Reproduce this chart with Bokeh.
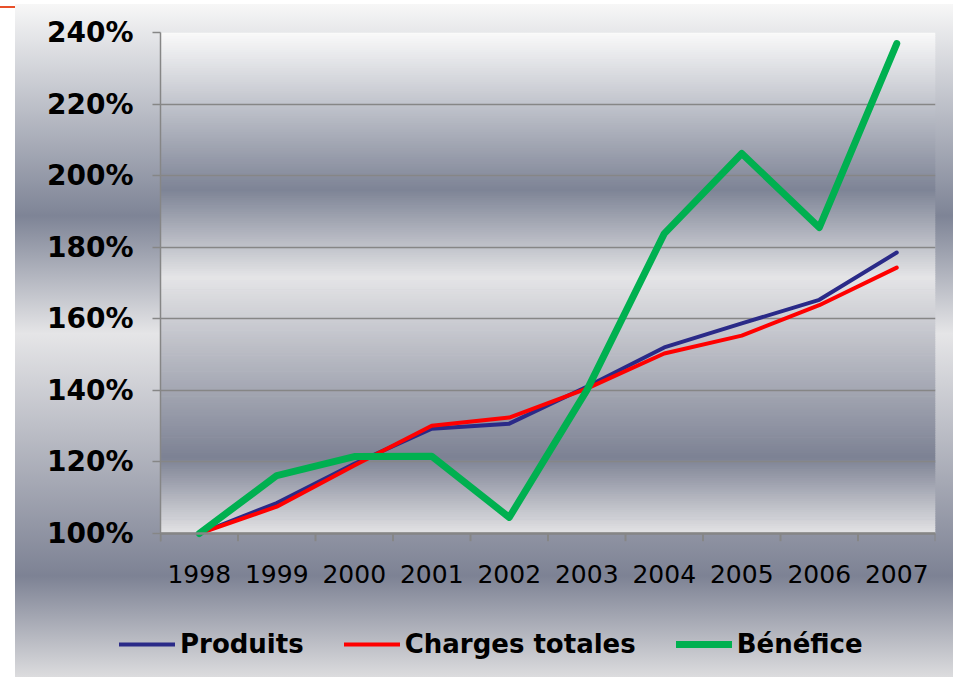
import numpy as np
from bokeh.plotting import figure
from bokeh.layouts import column
from bokeh.models import (Range1d, FixedTicker, Legend, LegendItem, Span,
                          ColumnDataSource)
from bokeh.embed import file_html
from bokeh.resources import INLINE

# ---------------- data ----------------
years = ["1998", "1999", "2000", "2001", "2002", "2003", "2004", "2005", "2006", "2007"]
produits = [100, 108.5, 119.5, 129.3, 130.7, 141.0, 152.0, 158.7, 165.3, 178.5]
charges = [100, 107.5, 119.0, 130.1, 132.4, 140.5, 150.3, 155.3, 163.8, 174.3]
benefice = [100, 116.2, 121.5, 121.6, 104.5, 140.0, 183.8, 206.2, 185.5, 236.9]
y_ticks = [100, 120, 140, 160, 180, 200, 220, 240]
y_tick_labels = ["100%", "120%", "140%", "160%", "180%", "200%", "220%", "240%"]
series_names = ["Produits", "Charges totales", "Bénéfice"]

# ---------------- style ----------------
FONT = "DejaVu Sans"
GRAY = "#868686"
C_BLUE = "#2a2a88"
C_RED = "#ff0000"
C_GREEN = "#00b050"
series_colors = [C_BLUE, C_RED, C_GREEN]
series_widths = [4, 4, 7]
series_values = [produits, charges, benefice]

g_stops = [0.0, 0.315, 0.49, 0.85, 1.0]
g_cols = [(251, 251, 251), (126, 132, 150), (229, 229, 231), (125, 130, 148), (227, 227, 229)]

W, H = 953, 677
LEG_H = 77
FRAME_H = 501          # height of the 100%..240% span
TICK_PX = 8            # category tick length below the axis line
n_cat = len(years)
xc = np.arange(n_cat) + 0.5
y0, y1 = y_ticks[0], y_ticks[-1]
tick_units = TICK_PX * (y1 - y0) / FRAME_H

p = figure(width=W, height=H - LEG_H, output_backend="svg", toolbar_location=None,
           x_range=Range1d(0, n_cat), y_range=Range1d(y0 - tick_units, y1),
           frame_width=775, frame_height=FRAME_H + TICK_PX,
           min_border_left=160, min_border_top=32, min_border_right=18,
           min_border_bottom=H - LEG_H - 32 - FRAME_H - TICK_PX)
p.background_fill_alpha = 0
p.border_fill_alpha = 0
p.outline_line_color = None

# plot-area gradient bands (100%..240%)
N = 220
edges = np.linspace(y1, y0, N + 1)
frac = (y1 - (edges[:-1] + edges[1:]) / 2) / (y1 - y0)
cols = []
for f in frac:
    rgb = [int(np.interp(f, g_stops, [c[k] for c in g_cols])) for k in range(3)]
    cols.append("#%02x%02x%02x" % tuple(rgb))
step = (y1 - y0) / N
bg = ColumnDataSource(dict(left=[0] * N, right=[n_cat] * N,
                           top=list(np.minimum(edges[:-1] + step * 0.3, y1)),
                           bottom=list(edges[1:]), c=cols))
p.quad(left="left", right="right", top="top", bottom="bottom", fill_color="c",
       line_color=None, source=bg, level="underlay")

# y axis
p.yaxis.ticker = FixedTicker(ticks=y_ticks)
p.yaxis.major_label_overrides = {t: l for t, l in zip(y_ticks, y_tick_labels)}
p.yaxis.major_label_text_font = FONT
p.yaxis.major_label_text_font_style = "bold"
p.yaxis.major_label_text_font_size = "28px"
p.yaxis.major_label_text_color = "black"
p.yaxis.major_label_standoff = 19
p.yaxis.axis_line_color = GRAY
p.yaxis.axis_line_width = 1.5
p.yaxis.major_tick_line_color = GRAY
p.yaxis.major_tick_line_width = 1.5
p.yaxis.major_tick_out = 8
p.yaxis.major_tick_in = 0
p.yaxis.minor_tick_line_color = None

p.ygrid.ticker = FixedTicker(ticks=y_ticks)
p.ygrid.grid_line_color = GRAY
p.ygrid.grid_line_width = 1.5
p.xgrid.grid_line_color = None

# x axis: category labels only
p.xaxis.ticker = FixedTicker(ticks=list(xc))
p.xaxis.major_label_overrides = {float(x): y for x, y in zip(xc, years)}
p.xaxis.major_label_text_font = FONT
p.xaxis.major_label_text_font_size = "25px"
p.xaxis.major_label_text_color = "black"
p.xaxis.major_label_standoff = 17
p.xaxis.axis_line_color = None
p.xaxis.major_tick_line_color = None
p.xaxis.minor_tick_line_color = None

# category axis line and boundary ticks
p.add_layout(Span(location=y0, dimension="width", line_color=GRAY, line_width=2.5))
bounds = np.arange(n_cat + 1)
p.segment(x0=bounds, y0=[y0] * len(bounds), x1=bounds, y1=[y0 - tick_units] * len(bounds),
          line_color=GRAY, line_width=2)

# series
for vals, c, w in zip(series_values, series_colors, series_widths):
    p.line(xc, vals, line_color=c, line_width=w, line_join="round", line_cap="round")

# ---------------- legend strip ----------------
# (a frameless strip below the chart; its line renderers hold the same series,
#  drawn outside its visible range, and only serve as legend samples)
pl = figure(width=W, height=LEG_H, output_backend="svg", toolbar_location=None,
            x_range=Range1d(0, W), y_range=Range1d(0, LEG_H),
            frame_width=W, frame_height=LEG_H,
            min_border_left=0, min_border_right=0, min_border_top=0, min_border_bottom=0)
pl.axis.visible = False
pl.grid.visible = False
pl.outline_line_color = None
pl.background_fill_alpha = 0
pl.border_fill_alpha = 0
leg_renderers = [pl.line(xc, vals, line_color=c, line_width=w, line_cap="round")
                 for vals, c, w in zip(series_values, series_colors, series_widths)]
legend = Legend(items=[LegendItem(label=n, renderers=[r]) for n, r in zip(series_names, leg_renderers)],
                orientation="horizontal", location=(119, 18))
legend.label_text_font = FONT
legend.label_text_font_style = "bold"
legend.label_text_font_size = "26px"
legend.label_text_color = "black"
legend.glyph_width = 56
legend.glyph_height = 30
legend.label_standoff = 5
legend.spacing = 40
legend.padding = 0
legend.margin = 0
legend.background_fill_alpha = 0
legend.border_line_alpha = 0
pl.add_layout(legend, "center")

css_cols = [(247, 247, 247)] + g_cols[1:-1] + [(220, 220, 222)]
css_stops = ", ".join(f"rgb{c} {s*100:.1f}%" for s, c in zip(g_stops, css_cols))
layout = column(p, pl, spacing=0, width=W, height=H)
layout.styles = {"background": (
    "linear-gradient(#e8502a, #e8502a) 0 6px / 15px 2px no-repeat, "
    f"linear-gradient(to bottom, {css_stops}) 15px 4px / calc(100% - 15px) calc(100% - 4px) no-repeat, white")}

open("out.html", "w").write(file_html(layout, INLINE))
